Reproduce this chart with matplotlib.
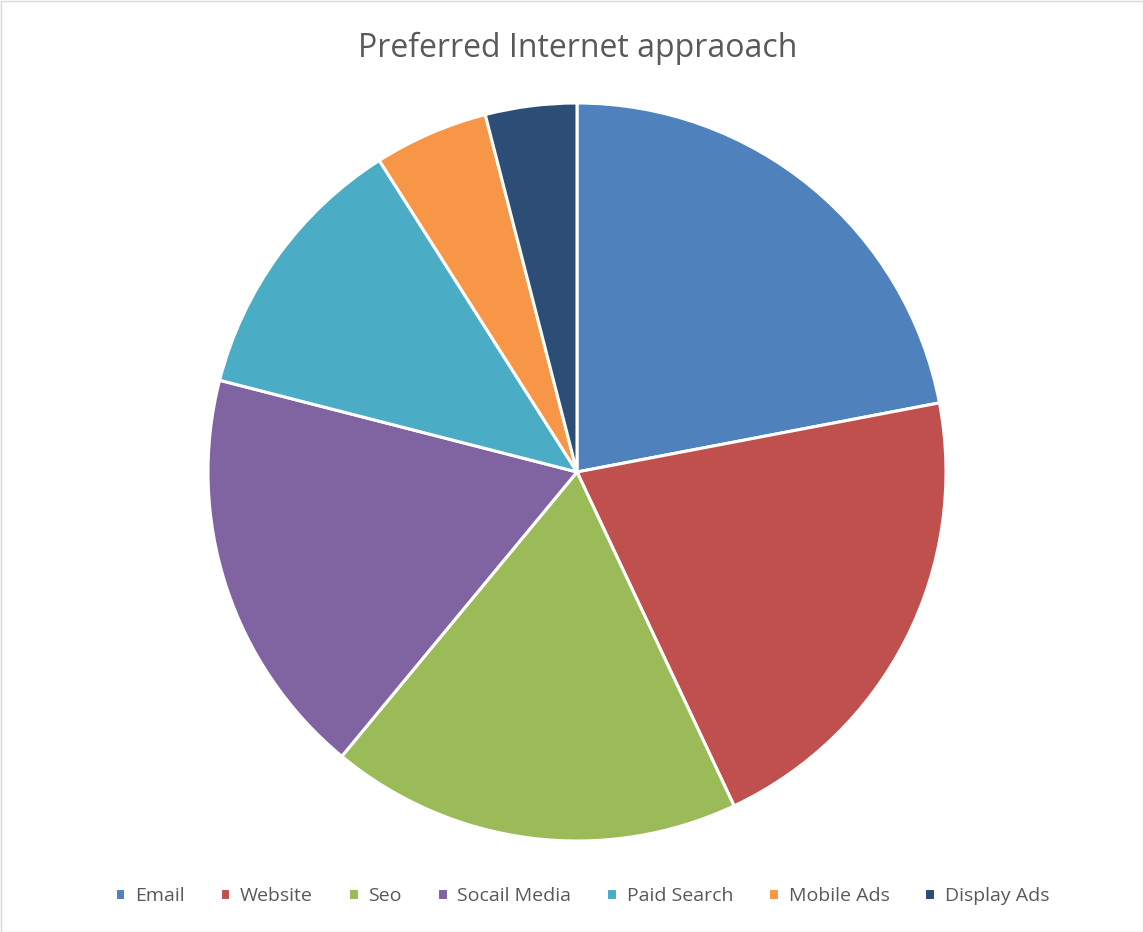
import matplotlib.pyplot as plt
from matplotlib.patches import Rectangle

# Share of respondents by preferred internet approach (percent)
labels = ["Email", "Website", "Seo", "Socail Media", "Paid Search", "Mobile Ads", "Display Ads"]
shares = [22, 21, 18, 18, 12, 5, 4]
colors = ["#4F81BD", "#C0504D", "#9BBB59", "#8064A2", "#4BACC6", "#F79646", "#2C4D75"]

plt.rcParams['font.family'] = ['Open Sans', 'DejaVu Sans']

W, H = 1143, 932
fig = plt.figure(figsize=(W / 100, H / 100), dpi=100)

# pie box in pixels: center (577, 472), radius 369
cx, cy, r = 577, 472, 369
ax = fig.add_axes([(cx - r) / W, (H - cy - r) / H, 2 * r / W, 2 * r / H])
wedges, _ = ax.pie(shares, colors=colors, startangle=90, counterclock=False,
                   radius=1, wedgeprops=dict(edgecolor="white", linewidth=2.2))
ax.set_xlim(-1.0, 1.0)
ax.set_ylim(-1.0, 1.0)

fig.text(577.5 / W, 1 - 48 / H, "Preferred Internet appraoach", ha="center", va="center",
         fontsize=23, color="#595959")

fig.legend(wedges, labels, loc="center", bbox_to_anchor=(582 / W, 1 - 896 / H),
           ncol=7, frameon=False, fontsize=14, labelcolor="#595959",
           handlelength=0.55, handleheight=0.55, handletextpad=0.5, columnspacing=1.8)

# thin light border around the chart area
fig.patches.append(Rectangle((0.5 / W, 0.5 / H), 1 - 1 / W, 1 - 1 / H, transform=fig.transFigure,
                             fill=False, edgecolor="#D9D9D9", linewidth=1))

fig.savefig("out.png", dpi=100)
